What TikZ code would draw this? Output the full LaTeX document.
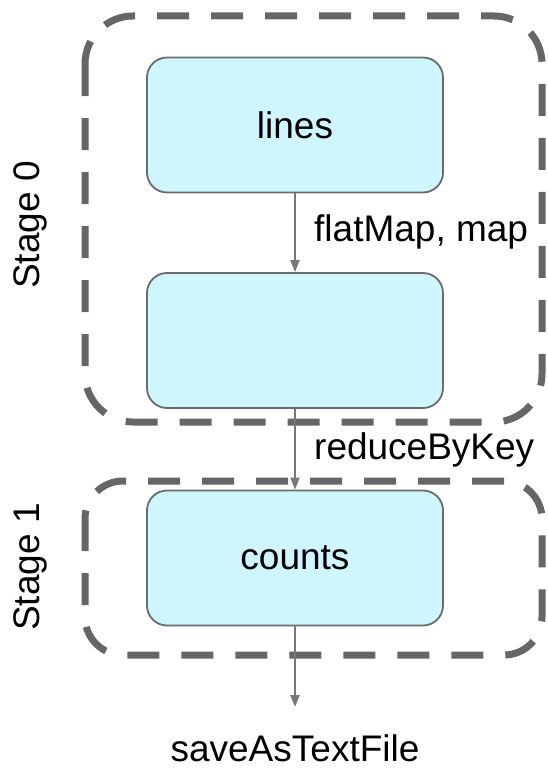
\documentclass[tikz,border=0pt]{standalone}
\usepackage{fontspec}
\setmainfont{Liberation Sans}
\usetikzlibrary{arrows.meta}
\definecolor{boxfill}{HTML}{CFF5FF}
\definecolor{boxline}{HTML}{6B6B6B}
\definecolor{stageline}{HTML}{666666}
\definecolor{arrowline}{HTML}{777777}
\tikzset{
  rdd/.style={draw=boxline, line width=1.8pt, fill=boxfill, rounded corners=20pt,
    minimum width=296pt, minimum height=135pt, inner sep=0pt, font=\fontsize{37}{40}\selectfont},
  stagebox/.style={draw=stageline, line width=7pt, dash pattern=on 32pt off 22pt},
  flow/.style={draw=arrowline, line width=2pt, -{Triangle[length=12pt,width=9pt]}},
  lbl/.style={font=\fontsize{37}{40}\selectfont, inner sep=0pt},
}
\begin{document}
\begin{tikzpicture}[x=1pt,y=-1pt]
\useasboundingbox (0,0) rectangle (548,768);

% stage outlines
\draw[stagebox, rounded corners=48pt] (85,16) rectangle (542,422);
\draw[stagebox, rounded corners=38pt] (85,481) rectangle (542,655);

% datasets
\node[rdd] (lines) at (295,125) {lines};
\node[rdd] (pairs) at (295,340.5) {};
\node[rdd] (counts) at (295,558) {counts};

% transformations
\coordinate (out) at (295,707);
\draw[flow] (lines.south) -- (pairs.north);
\draw[flow] (pairs.south) -- (counts.north);
\draw[flow] (counts.south) -- (out);

% labels
\node[lbl, anchor=west] (fm) at (314,232) {flatMap, map};
\node[lbl, anchor=west] (rbk) at (314,450) {reduceByKey};
\node[lbl] (save) at (295,748) {saveAsTextFile};
\node[lbl, rotate=90] (s0) at (30,225) {Stage 0};
\node[lbl, rotate=90] (s1) at (30,567) {Stage 1};
\end{tikzpicture}
\end{document}
